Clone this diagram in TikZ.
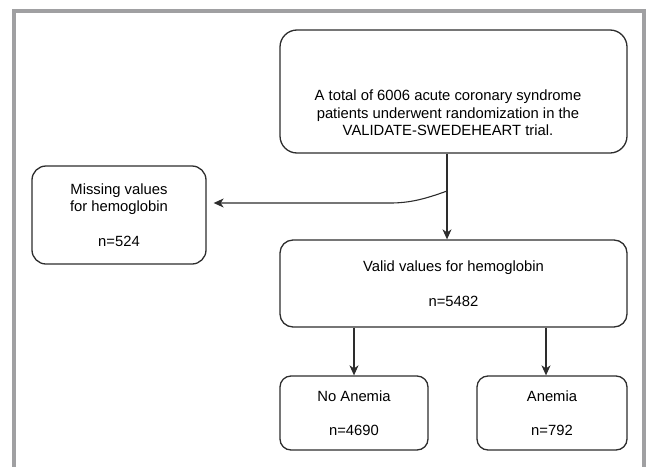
\documentclass[tikz,border=0pt]{standalone}
\usepackage{fontspec}
\setmainfont{Liberation Sans}
\usetikzlibrary{arrows.meta}
\definecolor{framegray}{RGB}{160,160,162}
\definecolor{boxline}{RGB}{45,45,45}

\begin{document}
\begin{tikzpicture}[x=1pt,y=-1pt,
	every node/.style={inner sep=0pt, align=center, text=black,
		font=\fontsize{14.8}{17.5}\selectfont},
	box/.style={draw=boxline, line width=1.3pt, rounded corners=#1},
	box/.default=13pt,
	flow/.style={draw=boxline, line width=1.1pt,
		-{Stealth[length=10pt,width=9pt,inset=3pt]}}]
	\useasboundingbox (0,0) rectangle (647,466);
	\draw [framegray, line width=4pt] (14,470) -- (14,11) -- (644,11) -- (644,470);
	\node [box=17pt, minimum width=347pt, minimum height=123pt] (total) at (453.5,91.5) {};
	\node [xshift=-5.5pt, yshift=-21.5pt] (totaltext) at (total.center)
		{A total of 6006 acute coronary syndrome\\patients underwent randomization in the\\VALIDATE-SWEDEHEART trial.};
	\node [box=14pt, minimum width=174pt, minimum height=98pt] (missing) at (119,215)
		{Missing values\\for hemoglobin\\[17.5pt]n=524};
	\node [box, minimum width=347pt, minimum height=87pt] (valid) at (453.5,283.5)
		{Valid values for hemoglobin\\[17.5pt]n=5482};
	\node [box=11pt, minimum width=148pt, minimum height=74pt] (noanemia) at (354,413)
		{No Anemia\\[16pt]n=4690};
	\node [box=11pt, minimum width=150pt, minimum height=74pt] (anemia) at (552,413)
		{Anemia\\[16pt]n=792};
	\coordinate (split) at (447,191);
	\coordinate (bend) at (390,203);
	\draw [flow] (split |- total.south) -- (split |- valid.north);
	\draw [flow, shorten >=7pt] (split) .. controls (425,199) and (410,203) .. (bend) -- (bend -| missing.east);
	\draw [flow] (noanemia.north |- valid.south) -- (noanemia.north);
	\draw [flow] ([xshift=-6pt]anemia.north |- valid.south) -- ([xshift=-6pt]anemia.north);
\end{tikzpicture}
\end{document}
